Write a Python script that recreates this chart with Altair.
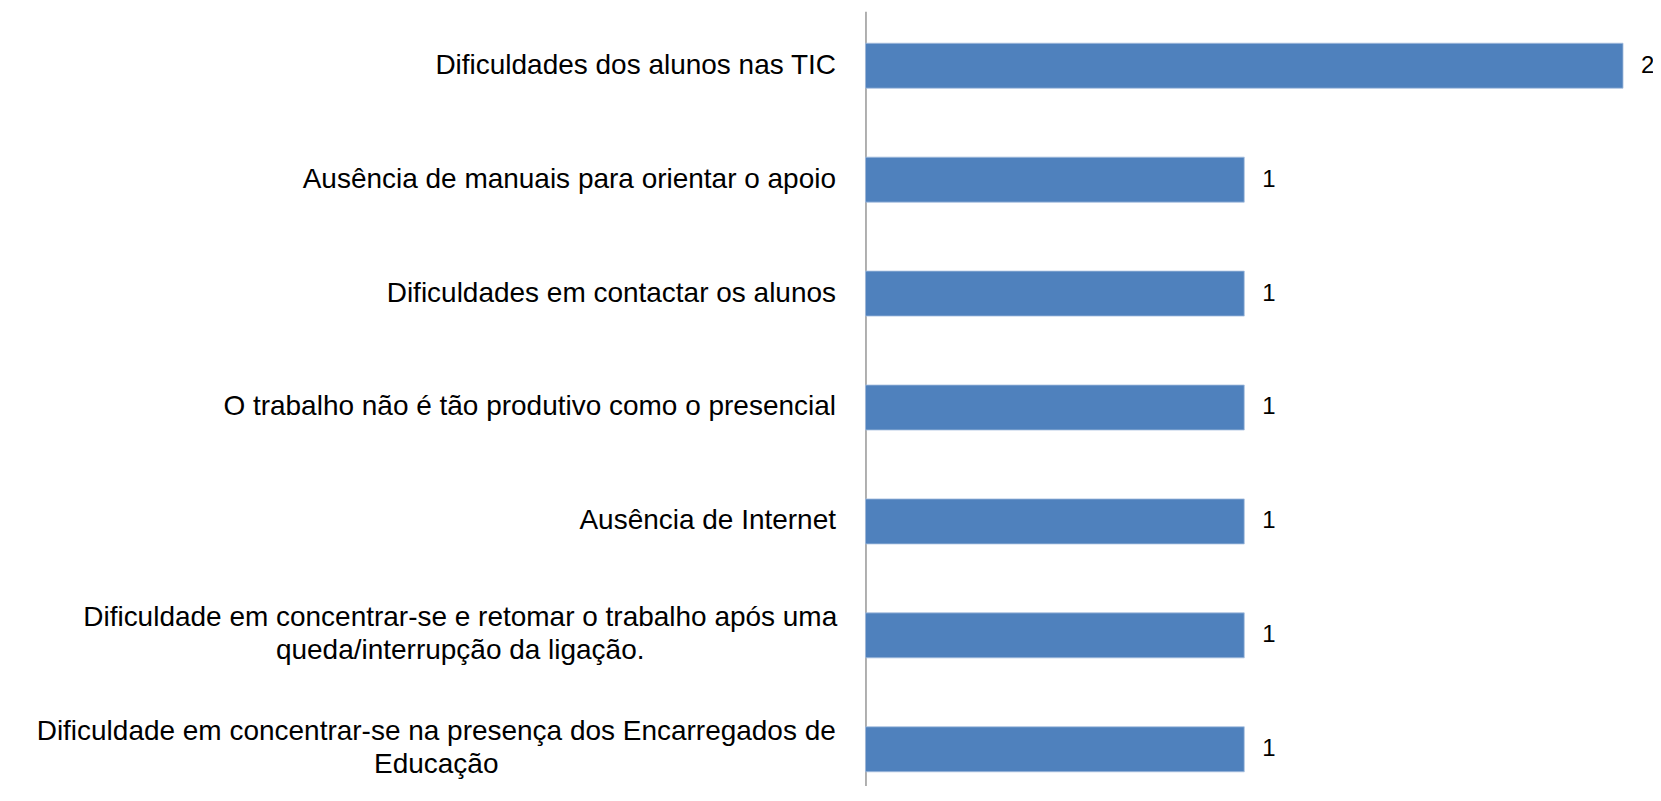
import altair as alt
import pandas as pd

categories = [
    "Dificuldades dos alunos nas TIC",
    "Ausência de manuais para orientar o apoio",
    "Dificuldades em contactar os alunos",
    "O trabalho não é tão produtivo como o presencial",
    "Ausência de Internet",
    "Dificuldade em concentrar-se e retomar o trabalho após uma|queda/interrupção da ligação.",
    "Dificuldade em concentrar-se na presença dos Encarregados de|Educação",
]
values = [2, 1, 1, 1, 1, 1, 1]

df = pd.DataFrame({"cat": categories, "val": values})

FONT = "Liberation Sans, Arial, sans-serif"
MULTI = "indexof(datum.value, '|') >= 0"

y_enc = alt.Y(
    "cat:N",
    sort=categories,
    title=None,
    scale=alt.Scale(paddingInner=0.605, paddingOuter=0.2016, align=0.696),
    axis=alt.Axis(
        labelExpr="split(datum.label, '|')",
        labelFont=FONT,
        labelFontSize=28,
        labelColor="#000000",
        labelLimit=900,
        labelPadding={
            "condition": [
                {"test": "indexof(datum.value, 'retomar') >= 0", "value": 406},
                {"test": "indexof(datum.value, 'Encarregados') >= 0", "value": 430},
            ],
            "value": 30,
        },
        labelAlign={"condition": {"test": MULTI, "value": "center"}, "value": "right"},
        labelOffset={"condition": {"test": MULTI, "value": -17}, "value": 0},
        labelLineHeight=33,
        ticks=False,
        grid=False,
        domainColor="#868686",
        domainWidth=1.3,
    ),
)

x_enc = alt.X("val:Q", scale=alt.Scale(domain=[0, 2], nice=False), axis=None)

bars = alt.Chart(df).mark_bar(color="#4F81BD", stroke="#A7BFDE", strokeWidth=0.8).encode(
    x=x_enc, y=y_enc
)

labels = alt.Chart(df).mark_text(
    align="left", baseline="middle", dx=18, font=FONT, fontSize=24, color="#000000"
).encode(x=x_enc, y=y_enc, text="val:Q")

chart = (
    alt.layer(bars, labels)
    .properties(
        width=758,
        height=775,
        autosize=alt.AutoSizeParams(type="none"),
        padding={"left": 858, "top": 3, "right": 30, "bottom": 0},
        view=alt.ViewBackground(stroke="transparent", strokeWidth=0, fill="#ffffff"),
    )
    .configure_view(stroke="transparent", strokeWidth=0)
    .configure_axis(grid=False)
    .configure(background="#ffffff")
)

chart.save("out.html", embed_options={"renderer": "svg", "actions": False})
